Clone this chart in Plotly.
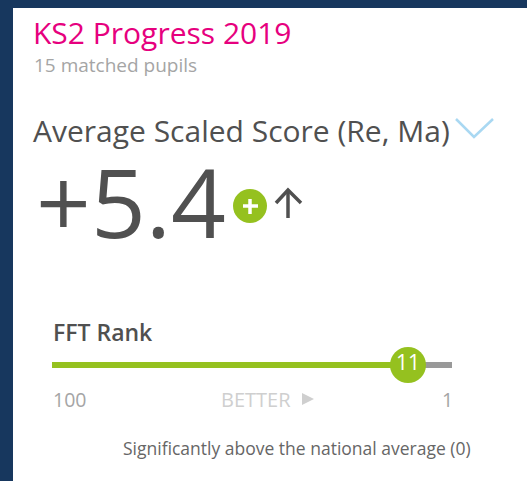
import plotly.graph_objects as go

W, H = 527, 481
title = "KS2 Progress 2019"
subtitle = "15 matched pupils"
measure = "Average Scaled Score (Re, Ma)"
score_label = "+5.4"
rank_title = "FFT Rank"
rank_value = 11
rank_start = 100
rank_end = 0
start_label = "100"
mid_label = "BETTER"
end_label = "1"
note = "Significantly above the national average (0)"

GREEN = "#95c11f"
GREY = "#999999"
DARK = "#505050"
NAVY = "#17375e"

def px(x): return x / W
def py(y): return 1 - y / H

fig = go.Figure()
fig.add_trace(go.Scatter(x=[rank_value, rank_end], y=[0, 0], mode="lines",
                         line=dict(color=GREY, width=6), hoverinfo="skip"))
fig.add_trace(go.Scatter(x=[rank_start, rank_value], y=[0, 0], mode="lines",
                         line=dict(color=GREEN, width=6), hoverinfo="skip"))
fig.add_trace(go.Scatter(x=[rank_value], y=[0], mode="markers+text",
                         marker=dict(color=GREEN, size=36), text=[str(rank_value)],
                         textposition="middle center",
                         textfont=dict(color="white", size=21, family="Open Sans"),
                         hoverinfo="skip"))

def label(x, y, text, size, color, family="Open Sans", anchor="left", weight=None):
    fig.add_annotation(x=px(x), y=py(y), xref="paper", yref="paper", text=text,
                       showarrow=False, xanchor=anchor, yanchor="middle",
                       borderpad=0, borderwidth=0,
                       font=dict(size=size, color=color, family=family,
                                 weight=weight or "normal"))

label(33, 32, title, 30, "#e6007e")
label(34, 65, subtitle, 19, "#a5a5a5")
label(33, 130, measure, 30, DARK)
label(36, 200, score_label, 96, DARK)
label(53, 332, rank_title, 23, DARK, weight=600)
label(53, 399, start_label, 19.5, "#a5a5a5")
label(221, 399, mid_label, 20, "#cfcfcf")
label(453, 399, end_label, 19.5, "#a5a5a5", anchor="right")
label(123, 448, note, 17.5, "#666666")

def path(points, close=False):
    s = "M " + " L ".join(f"{px(x):.5f} {py(y):.5f}" for x, y in points)
    return s + (" Z" if close else "")

shapes = [
    dict(type="rect", xref="paper", yref="paper", x0=px(13), x1=1, y0=py(8), y1=0,
         fillcolor="white", line_width=0, layer="below"),
    # chevron
    dict(type="path", xref="paper", yref="paper",
         path=path([(456, 119), (474, 137), (493, 119)]),
         line=dict(color="#a9d8f2", width=2.5)),
    # plus badge
    dict(type="circle", xref="paper", yref="paper", x0=px(233), x1=px(267),
         y0=py(189), y1=py(223), fillcolor=GREEN, line_width=0),
    dict(type="path", xref="paper", yref="paper", path=path([(243, 206), (258, 206)]),
         line=dict(color="white", width=3.5)),
    dict(type="path", xref="paper", yref="paper", path=path([(250, 199), (250, 214)]),
         line=dict(color="white", width=3.5)),
    # up arrow
    dict(type="path", xref="paper", yref="paper", path=path([(288, 218), (288, 190)]),
         line=dict(color=DARK, width=3.5)),
    dict(type="path", xref="paper", yref="paper", path=path([(276, 203), (288, 190), (301, 203)]),
         line=dict(color=DARK, width=3.5)),
    # better triangle
    dict(type="path", xref="paper", yref="paper", path=path([(302, 393), (314, 399), (302, 405)], True),
         fillcolor="#cfcfcf", line_width=0),
]

fig.update_layout(
    width=W, height=H, margin=dict(l=0, r=0, t=0, b=0), showlegend=False,
    paper_bgcolor=NAVY, plot_bgcolor="rgba(0,0,0,0)", shapes=shapes,
    xaxis=dict(domain=[px(52), px(452)], range=[rank_start, rank_end], visible=False, fixedrange=True),
    yaxis=dict(domain=[py(405), py(325)], range=[-1, 1], visible=False, fixedrange=True),
)
fig.write_html("out.html", config={"displayModeBar": False},
               post_script="document.body.style.margin='0';")
